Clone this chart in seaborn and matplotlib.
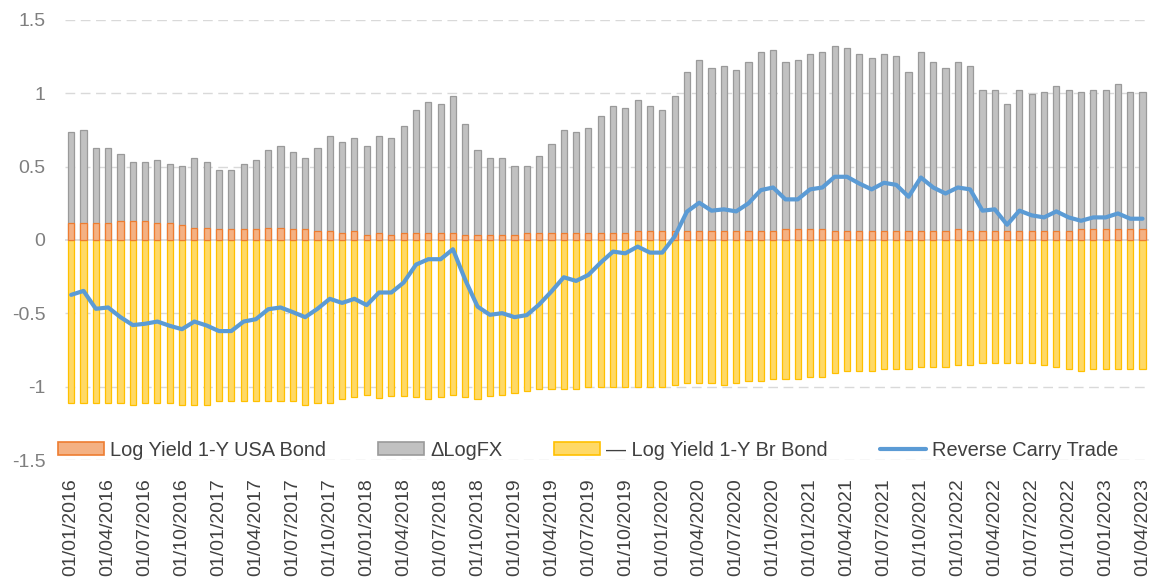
import numpy as np
import pandas as pd
import matplotlib
matplotlib.use("Agg")
import matplotlib.pyplot as plt
from matplotlib.patches import Patch
from matplotlib.lines import Line2D
import seaborn as sns

# Monthly observations, Jan 2016 - Apr 2023
months = pd.date_range("2016-01-01", periods=88, freq="MS").strftime("%d/%m/%Y").tolist()

usa_yield = [
    0.113, 0.113, 0.113, 0.113, 0.130, 0.130, 0.130, 0.113, 0.113, 0.100,
    0.084, 0.084, 0.073, 0.073, 0.073, 0.073, 0.084, 0.084, 0.073, 0.073,
    0.061, 0.061, 0.048, 0.061, 0.032, 0.048, 0.032, 0.045, 0.045, 0.045,
    0.045, 0.045, 0.032, 0.032, 0.032, 0.032, 0.032, 0.045, 0.045, 0.045,
    0.045, 0.045, 0.045, 0.045, 0.045, 0.045, 0.061, 0.061, 0.061, 0.061,
    0.061, 0.061, 0.061, 0.061, 0.061, 0.061, 0.061, 0.061, 0.075, 0.075,
    0.075, 0.075, 0.061, 0.061, 0.061, 0.061, 0.061, 0.061, 0.061, 0.061,
    0.061, 0.061, 0.075, 0.061, 0.061, 0.061, 0.061, 0.061, 0.061, 0.061,
    0.061, 0.061, 0.075, 0.075, 0.075, 0.075, 0.075, 0.075,
]

delta_log_fx = [
    0.624, 0.640, 0.515, 0.515, 0.457, 0.401, 0.401, 0.431, 0.406, 0.406,
    0.476, 0.447, 0.403, 0.403, 0.444, 0.471, 0.530, 0.558, 0.528, 0.487,
    0.567, 0.649, 0.621, 0.635, 0.610, 0.662, 0.664, 0.733, 0.842, 0.896,
    0.882, 0.937, 0.759, 0.582, 0.528, 0.528, 0.474, 0.461, 0.529, 0.610,
    0.705, 0.692, 0.719, 0.801, 0.869, 0.855, 0.894, 0.853, 0.826, 0.921,
    1.084, 1.166, 1.111, 1.125, 1.098, 1.152, 1.220, 1.234, 1.138, 1.152,
    1.193, 1.206, 1.261, 1.248, 1.207, 1.179, 1.207, 1.193, 1.084, 1.220,
    1.152, 1.111, 1.138, 1.125, 0.961, 0.961, 0.866, 0.961, 0.934, 0.948,
    0.989, 0.961, 0.934, 0.947, 0.947, 0.988, 0.934, 0.934,
]

br_yield = [
    -1.109, -1.109, -1.109, -1.109, -1.109, -1.122, -1.109, -1.109, -1.109, -1.122,
    -1.122, -1.122, -1.095, -1.095, -1.095, -1.095, -1.095, -1.095, -1.095, -1.122,
    -1.109, -1.109, -1.082, -1.073, -1.059, -1.077, -1.063, -1.063, -1.068, -1.082,
    -1.068, -1.054, -1.068, -1.082, -1.063, -1.054, -1.041, -1.027, -1.014, -1.014,
    -1.014, -1.014, -1.000, -1.000, -1.000, -1.000, -1.000, -1.000, -1.000, -0.986,
    -0.973, -0.973, -0.973, -0.986, -0.973, -0.959, -0.959, -0.946, -0.946, -0.946,
    -0.932, -0.932, -0.905, -0.891, -0.891, -0.891, -0.878, -0.878, -0.878, -0.864,
    -0.864, -0.864, -0.850, -0.850, -0.837, -0.837, -0.837, -0.837, -0.837, -0.850,
    -0.864, -0.878, -0.891, -0.878, -0.878, -0.878, -0.878, -0.878,
]

reverse_carry = [
    -0.374, -0.347, -0.469, -0.460, -0.526, -0.580, -0.571, -0.556, -0.585, -0.608,
    -0.556, -0.583, -0.621, -0.621, -0.556, -0.540, -0.472, -0.460, -0.492, -0.526,
    -0.469, -0.401, -0.429, -0.401, -0.444, -0.358, -0.358, -0.290, -0.168, -0.131,
    -0.131, -0.063, -0.272, -0.454, -0.510, -0.499, -0.526, -0.512, -0.440, -0.351,
    -0.254, -0.279, -0.238, -0.154, -0.079, -0.091, -0.045, -0.086, -0.086, 0.023,
    0.193, 0.254, 0.200, 0.209, 0.195, 0.250, 0.340, 0.358, 0.277, 0.277,
    0.345, 0.358, 0.431, 0.431, 0.385, 0.345, 0.390, 0.376, 0.295, 0.426,
    0.358, 0.317, 0.358, 0.345, 0.200, 0.209, 0.104, 0.200, 0.168, 0.154,
    0.195, 0.154, 0.131, 0.154, 0.154, 0.181, 0.145, 0.145,
]

y_ticks = [-1.5, -1.0, -0.5, 0.0, 0.5, 1.0, 1.5]
y_tick_labels = ["-1.5", "-1", "-0.5", "0", "0.5", "1", "1.5"]

df = pd.DataFrame({
    "month": months,
    "usa": usa_yield,
    "fx": delta_log_fx,
    "br": br_yield,
    "carry": reverse_carry,
})
df["usa_plus_fx"] = df["usa"] + df["fx"]
df["pos"] = np.arange(len(df))

sns.set_theme(style="white")
plt.rcParams["font.family"] = ["Liberation Sans", "DejaVu Sans"]

fig = plt.figure(figsize=(11.51, 5.84), dpi=100)
ax = fig.add_axes([0.0565, 0.2123, 0.9415, 0.7535])

grid_c = "#D9D9D9"
for v in y_ticks:
    if v == 0:
        ax.axhline(v, color=grid_c, lw=1.2, zorder=0)
    else:
        ax.axhline(v, color=grid_c, lw=1.0, ls=(0, (7, 4)), zorder=0)

bar_w = 0.5
# ΔLogFX stacked above the USA yield: draw the full stack, then the USA part over it
sns.barplot(data=df, x="month", y="usa_plus_fx", color="#C1C1C1", edgecolor="#9A9A9A",
            linewidth=0.9, width=bar_w, saturation=1, ax=ax, zorder=2)
sns.barplot(data=df, x="month", y="usa", color="#F4B183", edgecolor="#ED7D31",
            linewidth=0.9, width=bar_w, saturation=1, ax=ax, zorder=3)
sns.barplot(data=df, x="month", y="br", color="#FFD966", edgecolor="#FFC000",
            linewidth=0.9, width=bar_w, saturation=1, ax=ax, zorder=2)
sns.lineplot(data=df, x="pos", y="carry", color="#5B9BD5", lw=3.0, ax=ax, zorder=4)

ax.set_xlim(-0.5, len(df) - 0.5)
ax.set_ylim(-1.5, 1.5)
ax.set_xlabel("")
ax.set_ylabel("")
for s in ax.spines.values():
    s.set_visible(False)

tick_pos = list(range(0, len(df), 3))
ax.set_xticks(tick_pos)
ax.set_xticklabels([months[i] for i in tick_pos], rotation=90, fontsize=14.0, color="#404040")
ax.set_yticks(y_ticks)
ax.set_yticklabels(y_tick_labels, fontsize=14.0, color="#7F7F7F")
ax.tick_params(axis="x", length=0, pad=13)
ax.tick_params(axis="y", length=0, pad=14)
ax.grid(False)

handles = [
    Patch(facecolor="#F4B183", edgecolor="#ED7D31", lw=1.2),
    Patch(facecolor="#C1C1C1", edgecolor="#9A9A9A", lw=1.2),
    Patch(facecolor="#FFD966", edgecolor="#FFC000", lw=1.2),
    Line2D([0], [0], color="#5B9BD5", lw=3.0),
]
labels = ["Log Yield 1-Y USA Bond", "\u0394LogFX", "\u2014 Log Yield 1-Y Br Bond", "Reverse Carry Trade"]
fig.legend(handles, labels, loc="center", bbox_to_anchor=(0.511, 0.229), ncol=4,
           frameon=False, fontsize=14.4, handlelength=2.3, handleheight=0.65,
           handletextpad=0.3, columnspacing=2.6, labelcolor="#404040")

fig.savefig("out.png", dpi=100)
